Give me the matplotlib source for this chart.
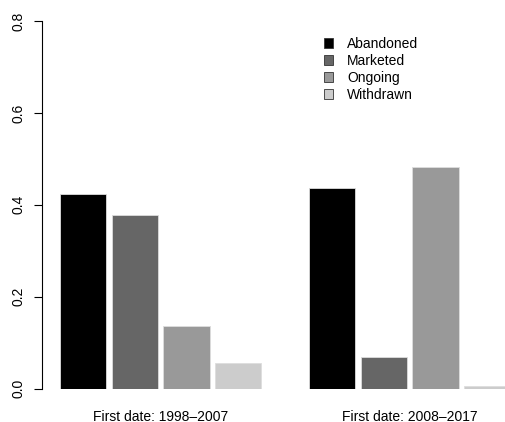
import numpy as np
import matplotlib.pyplot as plt
from matplotlib.patches import Patch

# Datos (proporciones por estado y periodo)
estados = ['Abandoned', 'Marketed', 'Ongoing', 'Withdrawn']
grupos = ['First date: 1998\u20132007', 'First date: 2008\u20132017']
valores_1998 = [0.423, 0.377, 0.136, 0.057]
valores_2008 = [0.436, 0.068, 0.482, 0.006]
colores = ['#000000', '#666666', '#999999', '#cccccc']

plt.rcParams['font.family'] = ['Liberation Sans', 'DejaVu Sans']

W, H = 506, 422
fig = plt.figure(figsize=(W / 100, H / 100), dpi=100)

# Región del gráfico en píxeles
x0, x1 = 41.7, 506
y0, y1 = 388.7, 21
ax = fig.add_axes([x0 / W, (H - y0) / H, (x1 - x0) / W, (y0 - y1) / H])

ancho = 0.9
desplaz = [0.0, 4.826]
for g, vals in enumerate([valores_1998, valores_2008]):
    pos = desplaz[g] + np.arange(len(vals))
    ax.bar(pos, vals, width=ancho, color=colores, edgecolor='#dddddd',
           linewidth=0.6)

ax.set_xlim(-0.805, 8.193)
ax.set_ylim(0, 0.8)

centros = [d + 1.5 for d in desplaz]
ax.set_xticks(centros)
ax.set_xticklabels(grupos, fontsize=10)
ax.tick_params(axis='x', length=0, pad=15)

ax.set_yticks([0.0, 0.2, 0.4, 0.6, 0.8])
ax.set_yticklabels(['0.0', '0.2', '0.4', '0.6', '0.8'], rotation=90,
                   va='center', fontsize=10)
ax.tick_params(axis='y', length=6, width=0.8, pad=6)

for s in ['top', 'right', 'bottom']:
    ax.spines[s].set_visible(False)
ax.spines['left'].set_linewidth(0.8)

handles = [Patch(facecolor=c, edgecolor='#333333', linewidth=0.6) for c in colores]
fig.legend(handles, estados, loc='upper left',
           bbox_to_anchor=(318 / W, 1 - 31 / H), frameon=False, fontsize=10,
           handlelength=0.7, handleheight=0.7, handletextpad=1.0,
           labelspacing=0.22, borderaxespad=0)

fig.savefig('out.png', dpi=100)
